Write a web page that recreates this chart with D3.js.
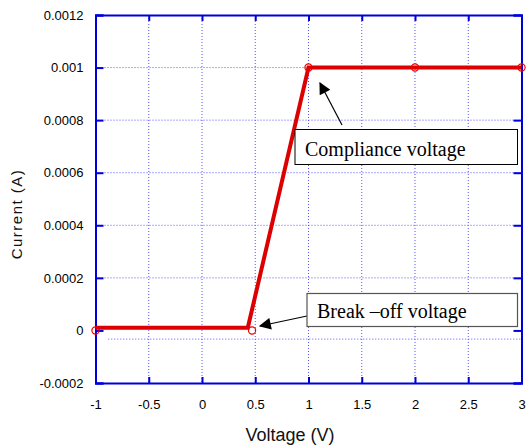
<!DOCTYPE html>
<html><head><meta charset="utf-8">
<script src="https://cdn.jsdelivr.net/npm/d3@7"></script>
<style>body{margin:0;background:#fff}svg{display:block}</style>
</head><body>
<svg id="c" width="526" height="446"></svg>
<script>
const xTicks = [-1, -0.5, 0, 0.5, 1, 1.5, 2, 2.5, 3];
const xTickLabels = ["-1", "-0.5", "0", "0.5", "1", "1.5", "2", "2.5", "3"];
const yTicks = [-0.0002, 0, 0.0002, 0.0004, 0.0006, 0.0008, 0.001, 0.0012];
const yTickLabels = ["-0.0002", "0", "0.0002", "0.0004", "0.0006", "0.0008", "0.001", "0.0012"];
const lineX = [-1, 0.43, 1, 2, 3];
const lineY = [0.00001, 0.00001, 0.001, 0.001, 0.001];
const markerX = [-1, 0.47, 1, 2, 3];
const markerY = [0, 0, 0.001, 0.001, 0.001];
const zeroGridX = [-0.88, 3];
const zeroGridY = [-0.000033, -0.000033];
const annotations = ["Compliance voltage", "Break \u2013off voltage"];

const svg = d3.select("#c");
const x = d3.scaleLinear().domain([-1, 3]).range([95.5, 521.5]);
const y = d3.scaleLinear().domain([-0.0002, 0.0012]).range([383, 15]);
const blue = "#0000dd";

// grid
const g = svg.append("g");
g.selectAll(".vg").data(xTicks.slice(1, -1)).join("line")
  .attr("x1", d => x(d)).attr("x2", d => x(d)).attr("y1", y(0.0012)).attr("y2", y(-0.0002))
  .attr("stroke", "#5555ff").attr("stroke-width", 1).attr("stroke-dasharray", "1,2");
g.selectAll(".hg").data(yTicks.filter(d => d !== 0 && d > -0.0002 && d < 0.0012)).join("line")
  .attr("x1", x(-1)).attr("x2", x(3)).attr("y1", d => y(d)).attr("y2", d => y(d))
  .attr("stroke", "#5555ff").attr("stroke-width", 1).attr("stroke-dasharray", "1,2");
g.append("line")
  .attr("x1", x(zeroGridX[0])).attr("x2", x(zeroGridX[1]))
  .attr("y1", y(zeroGridY[0])).attr("y2", y(zeroGridY[1]))
  .attr("stroke", "#5555ff").attr("stroke-width", 1).attr("stroke-dasharray", "1,2");

// axes (inward ticks)
const axL = d3.axisLeft(y).tickValues(yTicks).tickSize(-8).tickFormat((d, i) => yTickLabels[i]).tickPadding(12);
const axR = d3.axisRight(y).tickValues(yTicks).tickSize(-8).tickFormat("");
const axB = d3.axisBottom(x).tickValues(xTicks).tickSize(-6).tickFormat((d, i) => xTickLabels[i]).tickPadding(17);
const axT = d3.axisTop(x).tickValues(xTicks).tickSize(-6).tickFormat("");
function style(sel) {
  sel.select(".domain").attr("stroke", blue).attr("stroke-width", 2);
  sel.selectAll(".tick line").attr("stroke", blue).attr("stroke-width", 2);
  sel.selectAll("text").attr("font-family", "Arial, 'Liberation Sans', sans-serif").attr("font-size", 13).attr("fill", "#000");
}
svg.append("g").attr("transform", `translate(${x(-1)},0)`).call(axL).call(style);
svg.append("g").attr("transform", `translate(${x(3)},0)`).call(axR).call(style);
svg.append("g").attr("transform", `translate(0,${y(-0.0002)})`).call(axB).call(style);
svg.append("g").attr("transform", `translate(0,${y(0.0012)})`).call(axT).call(style);

// data line
const pts = lineX.map((d, i) => [d, lineY[i]]);
svg.append("path").datum(pts)
  .attr("d", d3.line().x(d => x(d[0])).y(d => y(d[1])))
  .attr("fill", "none").attr("stroke", "#dd0000").attr("stroke-width", 4);
svg.selectAll(".mk").data(markerX.map((d, i) => [d, markerY[i]])).join("circle")
  .attr("cx", d => x(d[0])).attr("cy", d => y(d[1])).attr("r", 3.6)
  .attr("fill", "none").attr("stroke", "#ee0000").attr("stroke-width", 1.2);

// annotations
const defs = svg.append("defs");
defs.append("marker").attr("id", "ah").attr("viewBox", "0 0 10 10").attr("refX", 9).attr("refY", 5)
  .attr("markerWidth", 16).attr("markerHeight", 12).attr("markerUnits", "userSpaceOnUse").attr("orient", "auto")
  .append("path").attr("d", "M0,0 L10,5 L0,10 z").attr("fill", "#000");

svg.append("line").attr("x1", 342).attr("y1", 125).attr("x2", 320).attr("y2", 83)
  .attr("stroke", "#000").attr("stroke-width", 1.2).attr("marker-end", "url(#ah)");
svg.append("rect").attr("x", 295).attr("y", 129.5).attr("width", 222.5).attr("height", 35)
  .attr("fill", "#fff").attr("stroke", "#000").attr("stroke-width", 1);
svg.append("text").attr("x", 305).attr("y", 156).text(annotations[0])
  .attr("font-family", "'Liberation Serif', 'Times New Roman', serif").attr("font-size", 20).attr("fill", "#000");

svg.append("line").attr("x1", 307).attr("y1", 316).attr("x2", 260).attr("y2", 326)
  .attr("stroke", "#000").attr("stroke-width", 1.2).attr("marker-end", "url(#ah)");
svg.append("rect").attr("x", 307).attr("y", 293.5).attr("width", 210.5).attr("height", 33)
  .attr("fill", "#fff").attr("stroke", "#555").attr("stroke-width", 1.2);
svg.append("text").attr("x", 317).attr("y", 318).text(annotations[1])
  .attr("font-family", "'Liberation Serif', 'Times New Roman', serif").attr("font-size", 20).attr("fill", "#000");

// axis titles
svg.append("text").attr("x", 290).attr("y", 441).attr("text-anchor", "middle")
  .attr("font-family", "Arial, 'Liberation Sans', sans-serif").attr("font-size", 18).attr("fill", "#111")
  .text("Voltage (V)");
svg.append("text").attr("transform", "translate(22,214) rotate(-90)").attr("text-anchor", "middle")
  .attr("font-family", "Arial, 'Liberation Sans', sans-serif").attr("font-size", 15).attr("letter-spacing", 1.5).attr("fill", "#111")
  .text("Current (A)");
</script>
</body></html>
